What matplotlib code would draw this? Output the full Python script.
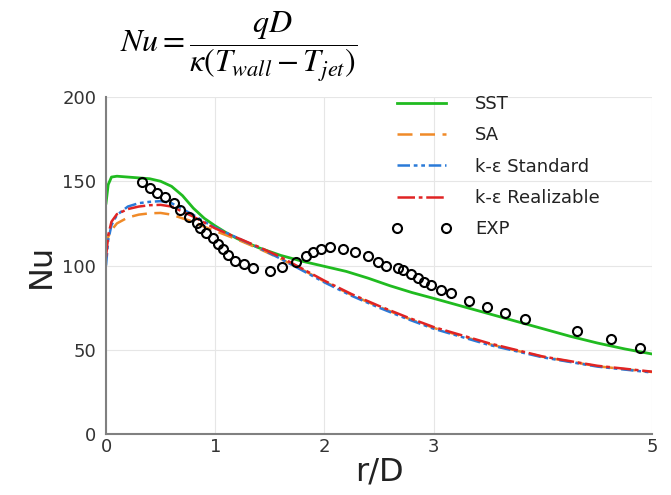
import matplotlib.pyplot as plt

# Nusselt number along the wall, four RANS models vs experiment
r_sst = [0.0, 0.02, 0.05, 0.1, 0.2, 0.3, 0.4, 0.5, 0.6, 0.7, 0.8, 0.9, 1.0, 1.1, 1.2, 1.4, 1.6, 1.8,
         2.0, 2.2, 2.4, 2.6, 2.8, 3.0, 3.25, 3.5, 3.75, 4.0, 4.25, 4.5, 4.75, 5.0]
nu_sst = [137, 148, 152.5, 153, 152.5, 152, 151.5, 150, 147, 141.5, 134, 128, 123.5, 119.5, 116, 110.5, 106, 102.5,
          99.5, 96.5, 92.5, 88, 84, 80.5, 76, 71.5, 67, 62.5, 58, 54, 50.5, 47.5]

r_rans = [0.0, 0.02, 0.05, 0.1, 0.2, 0.3, 0.4, 0.5, 0.6, 0.7, 0.8, 0.9, 1.0, 1.2, 1.4, 1.6, 1.8,
          2.0, 2.25, 2.5, 2.75, 3.0, 3.5, 4.0, 4.5, 5.0]
nu_sa = [110, 117, 121, 125, 128.5, 130.2, 131, 131.2, 130.2, 128, 126, 123, 120.5, 115.5, 110, 104, 97.5,
         90.5, 82.5, 75.5, 69, 63, 53.5, 45.8, 40.2, 36.8]
nu_ke_std = [100, 115, 124, 130, 135, 137, 137.8, 138.2, 137, 133.5, 130, 126, 122.5, 116.5, 110.5, 104, 97,
             90, 82, 75, 68.5, 62.5, 53, 45.5, 40, 36.5]
nu_ke_real = [105, 118, 126, 130.5, 133.5, 135, 135.8, 136, 135, 132, 129, 125.5, 122, 116.5, 111, 105, 98,
              91, 83, 76, 69.5, 63.5, 54, 46, 40.5, 37]

r_exp = [0.33, 0.40, 0.47, 0.54, 0.62, 0.68, 0.76, 0.83, 0.86, 0.92, 0.98, 1.03, 1.07, 1.12, 1.18, 1.26,
         1.35, 1.50, 1.61, 1.74, 1.83, 1.90, 1.97, 2.05, 2.17, 2.28, 2.40, 2.49, 2.56, 2.67, 2.72, 2.79,
         2.86, 2.91, 2.98, 3.07, 3.16, 3.32, 3.49, 3.65, 3.84, 4.31, 4.62, 4.89]
nu_exp = [149.3, 146, 143, 140.5, 137, 133, 129, 125.5, 122.5, 119.5, 116.5, 112.5, 109.7, 106, 102.8, 100.8,
          98.5, 96.8, 99.2, 101.8, 105.8, 108.3, 110, 111.2, 110, 108.2, 105.5, 101.8, 99.5, 98.8, 97.4, 95,
          92.7, 90.5, 88.2, 85.5, 83.7, 79, 75.4, 71.8, 68.2, 61.1, 56.4, 51.3]

x_ticks = [0, 1, 2, 3, 5]
y_ticks = [0, 50, 100, 150, 200]

plt.rcParams['mathtext.fontset'] = 'stix'

fig = plt.figure(figsize=(6.71, 4.95), dpi=100)
ax = fig.add_axes([0.158, 0.1232, 0.8137, 0.6808])

ax.plot(r_sst, nu_sst, color='#20bb20', lw=2.0, label='SST')
ax.plot(r_rans, nu_sa, color='#f08a28', lw=1.8, dashes=(6, 3), label='SA')
ax.plot(r_rans, nu_ke_std, color='#2a7ad8', lw=1.8, dashes=(5, 1.5, 1.5, 1.5, 1.5, 1.5), label='k-ε Standard')
ax.plot(r_rans, nu_ke_real, color='#e02424', lw=1.8, dashes=(7, 1.5, 1.5, 1.5), label='k-ε Realizable')
ax.plot(r_exp, nu_exp, ls='none', marker='o', ms=6.5, mfc='none', mec='black', mew=1.5, label='EXP')

ax.set_xlim(0, 5)
ax.set_ylim(0, 200)
ax.set_xticks(x_ticks)
ax.set_yticks(y_ticks)
ax.tick_params(length=0, labelsize=13, labelcolor='#333333')
ax.tick_params(axis='y', pad=7)
ax.tick_params(axis='x', pad=3)
ax.grid(color='#e6e6e6', lw=0.8)
ax.set_axisbelow(True)
for s in ['top', 'right']:
    ax.spines[s].set_visible(False)
for s in ['left', 'bottom']:
    ax.spines[s].set_color('#808080')
    ax.spines[s].set_linewidth(1.5)

ax.set_xlabel('r/D', fontsize=23, color='#222222', labelpad=0)
ax.set_ylabel('Nu', fontsize=23, color='#222222', labelpad=4)

leg = fig.legend(loc='upper left', bbox_to_anchor=(0.584, 0.808), frameon=False, fontsize=13,
                 handlelength=3.3, handletextpad=1.3, labelspacing=0.74, borderpad=0, borderaxespad=0,
                 numpoints=2)
for t in leg.get_texts():
    t.set_color('#222222')

# heat transfer definition above the axes
fig.text(0.355, 0.905, r'$Nu=\dfrac{qD}{\kappa(T_{wall}-T_{jet})}$', fontsize=23, ha='center', va='center')

fig.savefig('out.png', dpi=100)
